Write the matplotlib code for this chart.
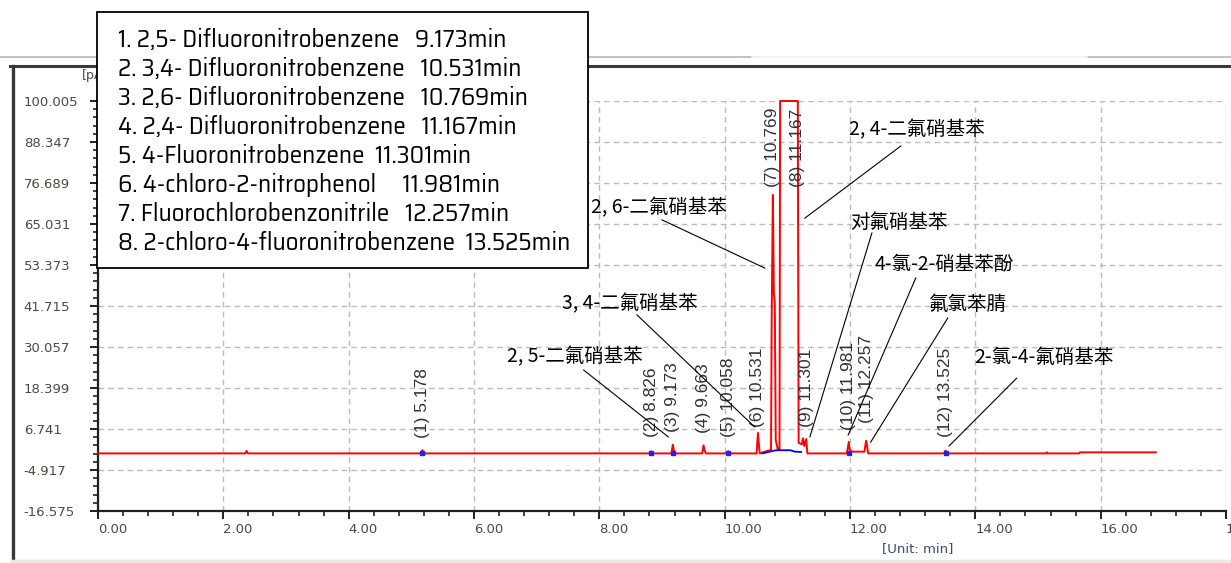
import numpy as np
import matplotlib
matplotlib.use('Agg')
import matplotlib.pyplot as plt
from matplotlib import font_manager
from matplotlib.lines import Line2D
from matplotlib.patches import Rectangle
from matplotlib.ticker import FixedLocator, MultipleLocator

# chromatogram trace (time in min, signal)
trace_t = [0.00, 2.35, 2.37, 2.39, 5.15, 5.178, 5.20, 8.80, 8.826, 8.85,
           9.15, 9.173, 9.19, 9.21, 9.64, 9.663, 9.68, 9.70, 10.04, 10.058,
           10.08, 10.51, 10.531, 10.545, 10.56, 10.66, 10.74, 10.75, 10.769,
           10.785, 10.80, 10.815, 10.85, 10.875, 10.885, 11.155, 11.167,
           11.18, 11.23, 11.25, 11.27, 11.301, 11.32, 11.95, 11.981, 11.995,
           12.02, 12.23, 12.257, 12.275, 12.29, 13.50, 13.525, 13.55, 15.13,
           15.14, 15.15, 15.66, 15.67, 16.88]
trace_v = [-0.2, -0.2, 0.5, -0.2, -0.2, 0.7, -0.2, -0.2, 0.4, -0.2,
           -0.2, 2.3, 0.6, -0.2, -0.2, 2.1, 0.6, -0.2, -0.2, 0.4,
           -0.2, -0.2, 5.6, 2.6, -0.2, 0.4, 0.8, 36.9, 73.3,
           45.4, 42.6, 3.6, 0.8, 0.8, 100.005, 100.005, 100.005,
           2.8, 2.4, 4.1, 1.9, 3.9, -0.2, -0.2, 3.1, 0.9,
           0.3, 0.3, 3.4, 1.6, -0.2, -0.2, 0.6, -0.2, -0.2,
           0.1, -0.2, -0.2, 0.1, 0.1]

# integration baseline under the main cluster
base_t = [10.60, 10.82, 11.05, 11.12, 11.22]
base_v = [-0.2, 0.7, 0.7, 0.3, 0.2]
# peak start/end markers
mark_t = [5.178, 8.826, 9.173, 10.058, 11.981, 13.525]
mark_v = [-0.2, -0.2, -0.2, -0.2, -0.2, -0.2]

peak_no = [1, 2, 3, 4, 5, 6, 7, 8, 9, 10, 11, 12]
peak_rt = [5.178, 8.826, 9.173, 9.663, 10.058, 10.531, 10.769, 11.167,
           11.301, 11.981, 12.257, 13.525]

ytick_vals = [-16.575, -4.917, 6.741, 18.399, 30.057, 41.715, 53.373,
              65.031, 76.689, 88.347, 100.005]
xtick_vals = [0, 2, 4, 6, 8, 10, 12, 14, 16, 18]

legend_lines = [
    '1. 2,5- Difluoronitrobenzene   9.173min',
    '2. 3,4- Difluoronitrobenzene   10.531min',
    '3. 2,6- Difluoronitrobenzene   10.769min',
    '4. 2,4- Difluoronitrobenzene   11.167min',
    '5. 4-Fluoronitrobenzene  11.301min',
    '6. 4-chloro-2-nitrophenol     11.981min',
    '7. Fluorochlorobenzonitrile   12.257min',
    '8. 2-chloro-4-fluoronitrobenzene  13.525min',
]

cn_names = ['2, 5-二氟硝基苯', '3, 4-二氟硝基苯', '2, 6-二氟硝基苯', '2, 4-二氟硝基苯',
            '对氟硝基苯', '4-氯-2-硝基苯酚', '氟氯苯腈', '2-氯-4-氟硝基苯']

# label placement: text left/center, leader line from -> to
cn_text = [(6.53, 27.2), (7.40, 42.3), (7.86, 69.6), (11.98, 91.8),
           (12.00, 65.6), (12.40, 53.4), (13.26, 42.0), (13.98, 27.2)]
cn_from = [(7.75, 23.5), (8.60, 39.2), (9.00, 66.2), (12.81, 87.2),
           (12.35, 62.5), (13.05, 49.7), (13.56, 38.3), (14.66, 21.2)]
cn_to = [(9.10, 4.5), (10.48, 7.3), (10.64, 52.5), (11.28, 66.7),
         (11.36, 4.5), (11.97, 5.0), (12.33, 3.0), (13.58, 1.9)]
label_bottom = [4.2, 4.5, 6.0, 5.6, 4.5, 7.3, 75.5, 75.5, 7.3, 6.5, 8.4, 4.5]

W, H = 1231, 563


def fx(x):
    return x / W


def fy(y):
    return 1 - y / H


plt.rcParams['font.family'] = ['DejaVu Sans']
fig = plt.figure(figsize=(W / 100, H / 100), dpi=100)
ax = fig.add_axes([fx(98), 52 / H, 1128 / W, 410 / H])

ax.plot(trace_t, trace_v, color='#ff0000', lw=1.4, clip_on=False, zorder=3)
ax.plot(base_t, base_v, color='#0000ff', lw=1.3, zorder=4)
ax.plot(mark_t, mark_v, 's', ms=2.2, color='#2020ff', zorder=4)

ax.set_xlim(0, 18)
ax.set_ylim(-16.575, 100.005)
ax.set_xticks(xtick_vals, ['%.2f' % v for v in xtick_vals])
ax.xaxis.set_minor_locator(MultipleLocator(0.4))
ax.set_yticks(ytick_vals, ['%.3f' % v for v in ytick_vals])
ax.yaxis.set_minor_locator(FixedLocator(np.arange(-16.575, 100.1, 11.658 / 5)))

ax.grid(True, which='major', ls=(0, (4, 3)), color='#bcbcbc', lw=1)
ax.set_axisbelow(True)
for s in ['top', 'right']:
    ax.spines[s].set_visible(False)
for s in ['left', 'bottom']:
    ax.spines[s].set_linewidth(1.6)
    ax.spines[s].set_color('#202020')

tick_col = '#4a4a40'
ax.tick_params(axis='both', which='major', length=5.5, width=1.4,
               colors='#202020', labelcolor=tick_col, labelsize=9.5)
ax.tick_params(axis='both', which='minor', length=3.5, width=1.2,
               colors='#202020')
ax.tick_params(axis='y', which='major', pad=48)
ax.tick_params(axis='x', which='major', pad=3)
for lab in ax.get_yticklabels():
    lab.set_horizontalalignment('left')
for lab in ax.get_xticklabels():
    lab.set_horizontalalignment('left')

# peak labels
for n, rt, b in zip(peak_no, peak_rt, label_bottom):
    ax.text(rt, b, '(%d) %.3f' % (n, rt), rotation=90, ha='center',
            va='bottom', fontsize=12.5, family='Liberation Sans',
            color='#30303c', zorder=5)

# compound names with leader lines
for name, tp, p0, p1 in zip(cn_names, cn_text, cn_from, cn_to):
    ax.text(tp[0], tp[1], name, ha='left', va='center', fontsize=14,
            family=['Noto Sans CJK SC', 'DejaVu Sans'], color='black',
            zorder=5)
    ax.plot([p0[0], p1[0]], [p0[1], p1[1]], color='black', lw=0.8,
            zorder=5)

fig.text(fx(918), fy(549), '[Unit: min]', ha='center', va='center',
         fontsize=9.5, color='#3a4a6a')
fig.text(fx(82), fy(76), '[pA]', ha='left', va='center', fontsize=9,
         color=tick_col, zorder=5)

# window frame
fig.add_artist(Line2D([0, fx(752)], [fy(57)] * 2, color='#b4b8bc', lw=1.2))
fig.add_artist(Line2D([fx(1087), 1], [fy(57)] * 2, color='#b4b8bc', lw=1.2))
fig.add_artist(Line2D([fx(752), fx(1087)], [fy(57)] * 2, color='#eef0f4',
                      lw=1.2))
fig.add_artist(Line2D([fx(10), 1], [fy(66)] * 2, color='#383838', lw=2.2))
fig.add_artist(Line2D([fx(13)] * 2, [fy(66), 0], color='#383838', lw=2.4))
fig.add_artist(Line2D([fx(13), 1], [fy(561)] * 2, color='#ece8de', lw=2.5))

# compound list box
fig.add_artist(Rectangle((fx(97), fy(268)), (588 - 97) / W, (268 - 12) / H,
                         transform=fig.transFigure, fc='white', ec='black',
                         lw=1.3, zorder=10))


def list_font(text, width_px):
    # narrow upright regular face, sized so the longest line fits width_px
    renderer = fig.canvas.get_renderer()
    cands = []
    for f in font_manager.fontManager.ttflist:
        name = f.name.lower()
        if any(k in name for k in ('mono', 'serif', 'cjk', 'math', 'display')):
            continue
        if f.style != 'normal' or f.weight not in (400, 'normal', 'regular', 'book'):
            continue
        narrow = 'narrow' in name or 'condensed' in name or \
            f.stretch in ('condensed', 'semi-condensed') or \
            'condensed' in f.fname.lower()
        if narrow or f.name == 'Liberation Sans':
            cands.append(f)
    best, best_w = None, None
    for f in cands:
        fp = font_manager.FontProperties(fname=f.fname, size=10)
        t = fig.text(0, 0, text, fontproperties=fp)
        w = t.get_window_extent(renderer).width
        t.remove()
        # about 250 px at 10 pt for an Arial Narrow style face
        if best is None or abs(w - 250) < abs(best_w - 250):
            best, best_w = f, w
    fp = font_manager.FontProperties(fname=best.fname)
    fp.set_size(min(10 * width_px / best_w, 18))
    return fp


longest = max(legend_lines, key=len)
nf = list_font(longest, 450)
for i, line in enumerate(legend_lines):
    fig.text(fx(118), fy(40 + 29 * i), line, ha='left', va='center',
             fontproperties=nf, color='black', zorder=11)

fig.savefig('out.png', dpi=100)
